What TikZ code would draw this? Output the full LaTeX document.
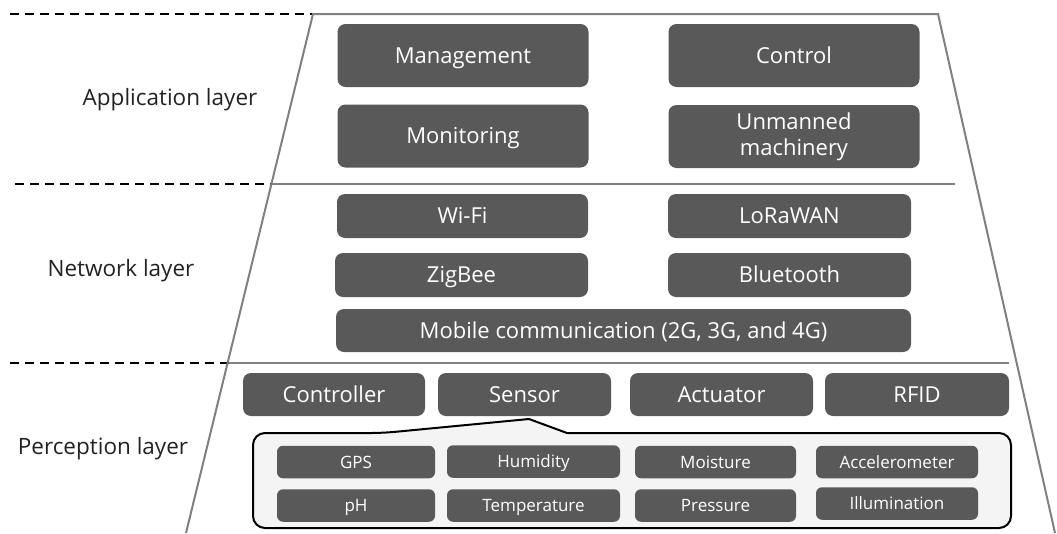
\documentclass[tikz,border=0pt]{standalone}
\usepackage{fontspec}
\setmainfont{Open Sans}
\definecolor{boxgray}{HTML}{595959}
\definecolor{framegray}{HTML}{808080}
\definecolor{labelgray}{HTML}{222222}
\definecolor{callgray}{HTML}{F4F4F4}
\begin{document}
\begin{tikzpicture}[x=1pt,y=-1pt,
    box/.style={fill=boxgray,rounded corners=8pt,text=white,inner sep=0pt,align=center,text height=19pt,text depth=3.5pt,font=\fontsize{22}{26}\selectfont},
    app/.style={box,minimum width=251pt,minimum height=63pt},
    net/.style={box,minimum height=44pt},
    per/.style={box,minimum height=43pt},
    small/.style={box,rounded corners=6pt,minimum height=32.5pt,text height=15pt,text depth=3pt,font=\fontsize{17}{20}\selectfont},
    layer/.style={text=labelgray,font=\fontsize{22.5}{26}\selectfont},
    frame/.style={draw=framegray,line width=2pt},
    divider/.style={draw=black,line width=2pt,dash pattern=on 9pt off 6pt}]
  \useasboundingbox (0,0) rectangle (1057,533);
  \draw[divider] (10,14) -- (353,14);
  \draw[divider] (15,184) -- (307,184);
  \draw[divider] (10,363) -- (265,363);
  \draw[frame] (186,533) -- (313,14) -- (938,14) -- (1055,533);
  \draw[frame] (272,184) -- (955,184);
  \draw[frame] (229,363) -- (1009,363);
  \node[layer] (applayer) at (170,100) {Application layer};
  \node[layer] (netlayer) at (121,271) {Network layer};
  \node[layer] (perlayer) at (103,449) {Perception layer};
  \node[app] (management) at (463,55.5) {Management};
  \node[app] (control) at (794,55.5) {Control};
  \node[app] (monitoring) at (463,136) {Monitoring};
  \node[app,text height=,text depth=] (unmanned) at (794,136.5) {Unmanned\\machinery};
  \node[net,minimum width=251pt] (wifi) at (462.5,216) {Wi-Fi};
  \node[net,minimum width=243pt] (lorawan) at (789.5,216) {LoRaWAN};
  \node[net,minimum width=253pt] (zigbee) at (461.5,275) {ZigBee};
  \node[net,minimum width=243pt] (bluetooth) at (789.5,275) {Bluetooth};
  \node[net,minimum width=575pt,minimum height=43pt] (mobile) at (623.5,330.5) {Mobile communication (2G, 3G, and 4G)};
  \node[per,minimum width=182pt] (controller) at (334,394.5) {Controller};
  \node[per,minimum width=173pt] (sensor) at (524.5,394.5) {Sensor};
  \node[per,minimum width=183pt] (actuator) at (721.5,394.5) {Actuator};
  \node[per,minimum width=184pt] (rfid) at (917,394.5) {RFID};
  \draw[fill=callgray,line width=2pt] (383,433) -- (529,419) -- (567,433) [rounded corners=12pt] -- (1011,433) -- (1011,528) -- (253,528) -- (253,433) -- cycle;
  \node[small,minimum width=158pt] (gps) at (356,462) {GPS};
  \node[small,minimum width=158pt] (ph) at (356,505.5) {pH};
  \node[small,minimum width=173pt] (humidity) at (533.5,461.5) {Humidity};
  \node[small,minimum width=173pt] (temperature) at (533.5,505.5) {Temperature};
  \node[small,minimum width=161pt] (moisture) at (715.5,462) {Moisture};
  \node[small,minimum width=161pt] (pressure) at (715.5,505.5) {Pressure};
  \node[small,minimum width=162pt] (accelerometer) at (897,462) {Accelerometer};
  \node[small,minimum width=162pt] (illumination) at (897,503.5) {Illumination};
\end{tikzpicture}
\end{document}
